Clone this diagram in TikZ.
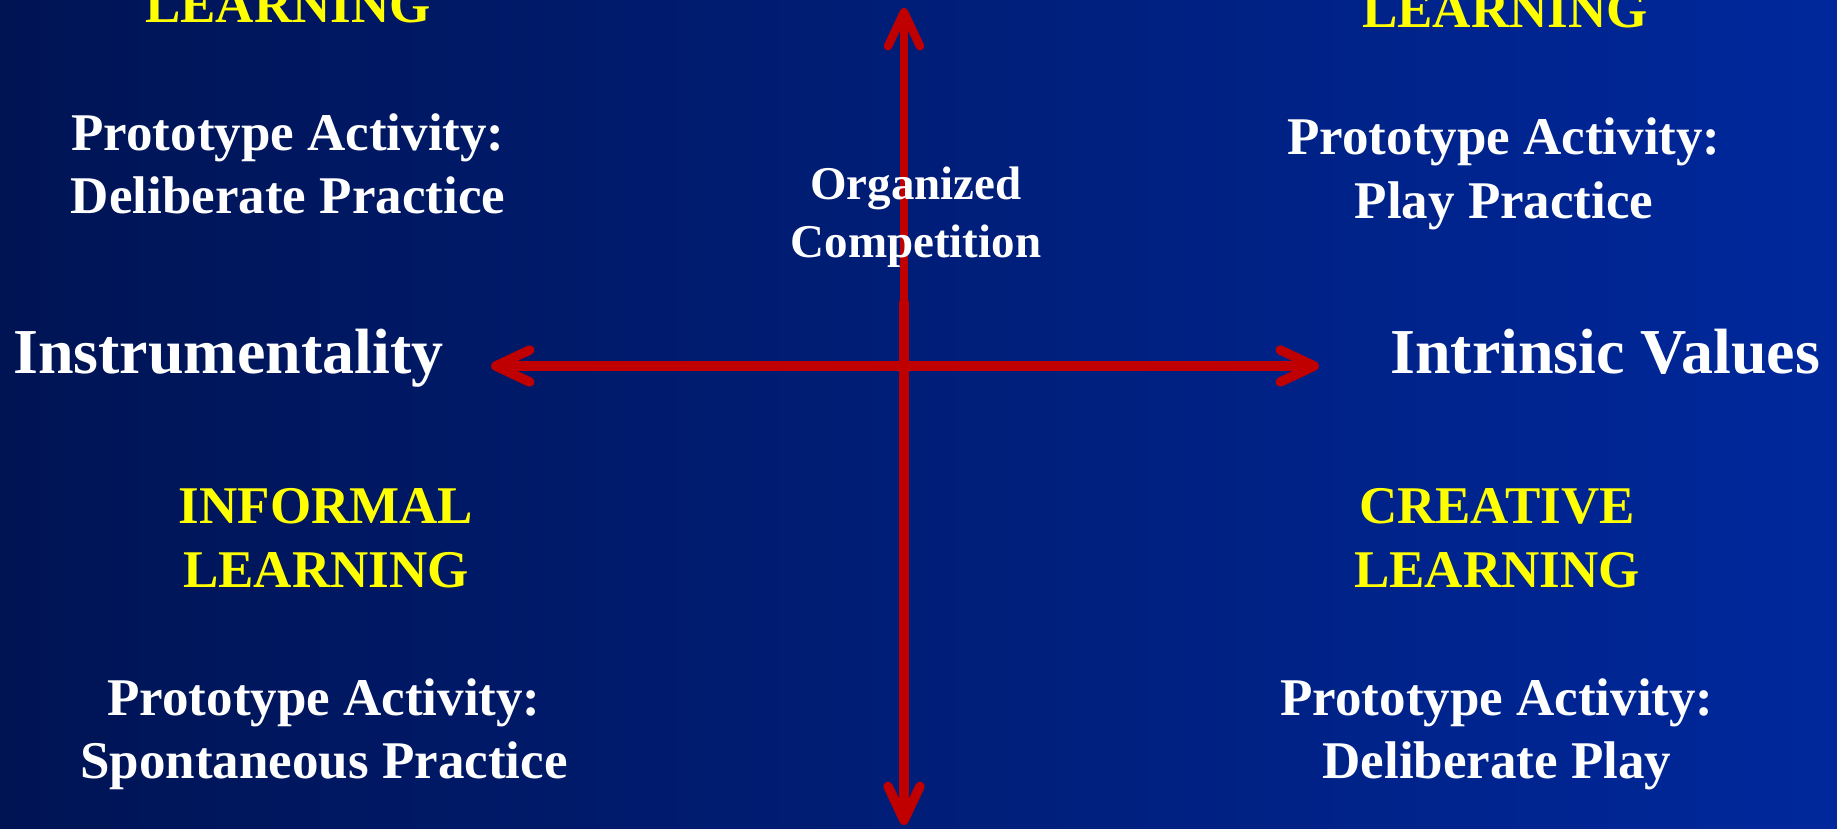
\documentclass[tikz,border=0pt]{standalone}
\usepackage{fontspec}
\setmainfont{Liberation Serif}
\usetikzlibrary{arrows.meta}
\definecolor{bgleft}{RGB}{0,20,84}
\definecolor{bgright}{RGB}{0,40,156}
\definecolor{axisred}{RGB}{192,0,0}
\definecolor{headyellow}{RGB}{255,255,0}
\tikzset{
  axisline/.style={draw=axisred, line width=9.5pt, line cap=round,
    -{Straight Barb[length=34pt, width=32pt, line cap=round, line join=round]}},
  biaxis/.style={draw=axisred, line width=9.5pt, line cap=round,
    {Straight Barb[length=34pt, width=32pt, line cap=round, line join=round]}-{Straight Barb[length=34pt, width=32pt, line cap=round, line join=round]}},
  head/.style={anchor=base, inner sep=0pt, text=headyellow, font=\bfseries\fontsize{53}{62}\selectfont},
  proto/.style={anchor=base, inner sep=0pt, text=white, font=\bfseries\fontsize{53}{62}\selectfont},
  pole/.style={anchor=base west, inner sep=0pt, text=white, font=\bfseries\fontsize{64}{74}\selectfont},
  mid/.style={anchor=base, inner sep=0pt, text=white, font=\bfseries\fontsize{47}{56}\selectfont}
}
\begin{document}
\begin{tikzpicture}[x=1pt, y=-1pt]
\useasboundingbox (0,0) rectangle (1837,828);
\clip (0,0) rectangle (1837,828);
\shade[left color=bgleft, right color=bgright] (0,0) rectangle (1837,828);

% axes
\coordinate (c) at (904,302);
\coordinate (top) at (904,8);
\coordinate (bot) at (904,825);
\coordinate (left) at (491,366);
\coordinate (right) at (1319,366);
\draw[axisline, line width=8.5pt] (c) -- (top);
\draw[axisline] (c) -- (bot);
\draw[biaxis] (left) -- (right);

% top-left quadrant
\node[head]  (tlh)  at (288,22)  {LEARNING};
\node[proto] (tlp1) at (288,150) {Prototype Activity:};
\node[proto] (tlp2) at (288,213) {Deliberate Practice};

% top-right quadrant
\node[head]  (trh)  at (1505,27)  {LEARNING};
\node[proto] (trp1) at (1504,154) {Prototype Activity:};
\node[proto] (trp2) at (1504,218) {Play Practice};

% centre label
\node[mid] (org1) at (916,199) {Organized};
\node[mid] (org2) at (916,257) {Competition};

% poles
\node[pole] (instr) at (13,373)   {Instrumentality};
\node[pole] (intr)  at (1390,373) {Intrinsic Values};

% bottom-left quadrant
\node[head]  (blh1) at (326,523) {INFORMAL};
\node[head]  (blh2) at (326,587) {LEARNING};
\node[proto] (blp1) at (324,715) {Prototype Activity:};
\node[proto] (blp2) at (324,778) {Spontaneous Practice};

% bottom-right quadrant
\node[head]  (brh1) at (1497,523) {CREATIVE};
\node[head]  (brh2) at (1497,587) {LEARNING};
\node[proto] (brp1) at (1497,715) {Prototype Activity:};
\node[proto] (brp2) at (1497,778) {Deliberate Play};
\end{tikzpicture}
\end{document}
